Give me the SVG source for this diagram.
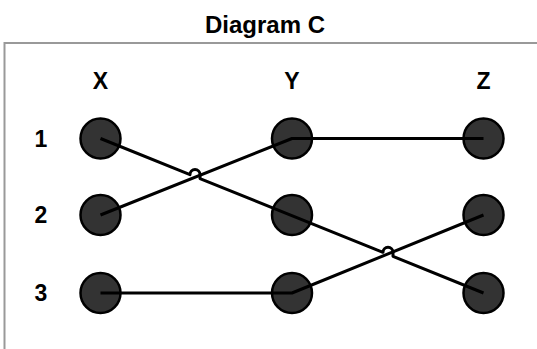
<svg xmlns="http://www.w3.org/2000/svg" width="537" height="349" viewBox="0 0 537 349">
<style>
.t{font-family:"Liberation Sans",Arial,sans-serif;font-weight:bold;fill:#000;text-anchor:middle}
.l{font-size:23px}
.n{fill:#333;stroke:#000;stroke-width:2.5}
.c{fill:none;stroke:#000;stroke-width:3;stroke-linejoin:round}
</style>
<rect width="537" height="349" fill="#fff"/>
<text class="t" x="265" y="33" font-size="24">Diagram C</text>
<path d="M4.5,349 V43 H537" fill="none" stroke="#999" stroke-width="2"/>
<g id="labels">
<text class="t l" x="100.5" y="89">X</text>
<text class="t l" x="292" y="89">Y</text>
<text class="t l" x="483.5" y="89">Z</text>
<text class="t l" x="41" y="147">1</text>
<text class="t l" x="41" y="223">2</text>
<text class="t l" x="41" y="301">3</text>
</g>
<g id="X1"><circle class="n" cx="100.5" cy="138.5" r="20"/></g>
<g id="X2"><circle class="n" cx="100.5" cy="215" r="20"/></g>
<g id="X3"><circle class="n" cx="100.5" cy="293" r="20"/></g>
<g id="Y1"><circle class="n" cx="292" cy="138.5" r="20"/></g>
<g id="Y2"><circle class="n" cx="292" cy="215" r="20"/></g>
<g id="Y3"><circle class="n" cx="292" cy="293" r="20"/></g>
<g id="Z1"><circle class="n" cx="483.5" cy="138.5" r="20"/></g>
<g id="Z2"><circle class="n" cx="483.5" cy="215" r="20"/></g>
<g id="Z3"><circle class="n" cx="483.5" cy="293" r="20"/></g>
<g id="connectors">
<path class="c" d="M100.5,215 L292,138.5 H483.5"/>
<path class="c" d="M100.5,293 H292 L483.5,215"/>
<path class="c" d="M100.5,138.5 L190,174.6 A5,5 0 0 1 200,174.6 L200,178.6 L383,252.3 A5,5 0 0 1 393,252.3 L393,256.3 L483.5,293"/>
</g>
</svg>
